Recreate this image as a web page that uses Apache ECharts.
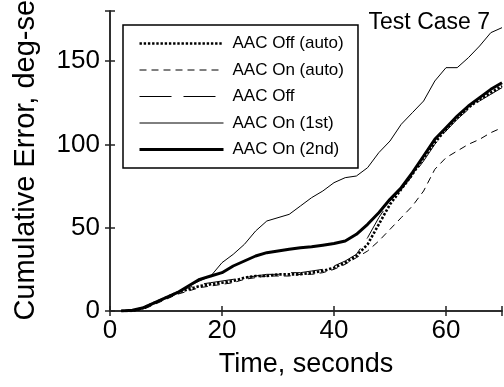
<!DOCTYPE html>
<html>
<head>
<meta charset="utf-8">
<script src="https://cdn.jsdelivr.net/npm/echarts@6/dist/echarts.min.js"></script>
<style>
  html, body { margin: 0; padding: 0; background: #fff; }
  #chart { width: 504px; height: 387px; }
</style>
</head>
<body>
<div id="chart"></div>
<script>
// Time samples (seconds)
const time = [2,4,6,8,10,12,14,16,18,20,22,24,26,28,30,32,34,36,38,40,42,44,46,48,50,52,54,56,58,60,62,64,66,68,70];

// Cumulative error (deg-sec) for each run
const aacOffAuto = [0,0,2,5,8,11,13,15,16,17,18,20,21,21,22,22,22,23,24,26,29,33,40,52,64,73,82,92,101,109,116,122,127,131,135];
const aacOnAuto  = [0,0,1,4,7,10,12,14,15,16,17,19,20,21,21,21,22,22,23,25,28,32,36,42,49,56,63,72,85,92,96,100,103,107,110];
const aacOff     = [0,0,2,5,8,11,14,16,17,18,19,20,21,22,22,23,23,24,25,27,30,34,44,56,66,73,81,90,100,108,115,121,126,130,134];
const aacOn1st   = [0,0,2,5,8,11,15,18,21,29,34,40,48,54,56,58,63,68,72,77,80,81,86,95,102,112,119,126,138,146,146,152,159,167,170];
const aacOn2nd   = [0,0.5,2,5,8,11,15,19,21,23,27,30,33,35,36,37,38,38.5,39.5,40.5,42,46,52,59,67,74,83,93,103,110,117,123,128,133,137];

const seriesNames = ['AAC Off (auto)', 'AAC On (auto)', 'AAC Off', 'AAC On (1st)', 'AAC On (2nd)'];
const xTicks = [0, 20, 40, 60];
const yTicks = [0, 50, 100, 150];

const FONT = "'Liberation Sans', Arial, sans-serif";
const INK = '#000';

const pair = (vals) => time.map((t, i) => [t, vals[i]]);

const styles = [
  { width: 2.6, type: [2.4, 1.8] },
  { width: 1, type: [7, 5] },
  { width: 1, type: [32, 12] },
  { width: 1, type: 'solid' },
  { width: 3, type: 'solid' }
];
const values = [aacOffAuto, aacOnAuto, aacOff, aacOn1st, aacOn2nd];

const chart = echarts.init(document.getElementById('chart'), null, { renderer: 'canvas' });

const axisLineStyle = { color: '#222', width: 1.5 };

chart.setOption({
  animation: false,
  backgroundColor: '#fff',
  title: {
    text: 'Test Case 7',
    right: 9,
    top: 6,
    padding: 5,
    textStyle: { fontFamily: FONT, fontSize: 23, fontWeight: 'normal', color: INK }
  },
  legend: {
    left: 123,
    top: 25,
    orient: 'vertical',
    padding: [10, 14, 10, 15],
    itemWidth: 84,
    itemHeight: 14,
    itemGap: 9.5,
    backgroundColor: '#fff',
    borderColor: '#000',
    borderWidth: 1.5,
    borderRadius: 0,
    textStyle: { fontFamily: FONT, fontSize: 17, color: INK, padding: [0, 0, 0, 4] },
    data: seriesNames.map((n, i) => ({
      name: n,
      // line-only keys: the marker dot is made fully transparent
      itemStyle: { color: 'rgba(0,0,0,0)', borderWidth: 0, opacity: 0 },
      lineStyle: { color: INK, width: styles[i].width, type: styles[i].type }
    }))
  },
  grid: { left: 110, right: 2, top: 11, bottom: 76, outerBoundsMode: 'none' },
  xAxis: [{
    type: 'value',
    min: 0, max: 70, interval: 20,
    name: 'Time, seconds',
    nameLocation: 'middle',
    nameGap: 40,
    nameTextStyle: { fontFamily: FONT, fontSize: 27, color: INK },
    axisLine: { show: true, lineStyle: axisLineStyle },
    axisTick: { show: true, inside: true, length: 5, lineStyle: axisLineStyle },
    axisLabel: {
      fontFamily: FONT, fontSize: 26, color: INK, margin: 7,
      formatter: v => (xTicks.includes(v) ? String(v) : '')
    },
    splitLine: { show: false }
  }, {
    type: 'value',
    position: 'top',
    min: 0, max: 70, interval: 20,
    axisLine: { show: true, lineStyle: axisLineStyle },
    axisTick: { show: true, inside: true, length: 5, lineStyle: axisLineStyle },
    axisLabel: { show: false },
    splitLine: { show: false }
  }],
  yAxis: [{
    type: 'value',
    min: 0, max: 180, interval: 50,
    name: 'Cumulative Error, deg-sec',
    nameLocation: 'middle',
    nameGap: 70,
    nameTextStyle: { fontFamily: FONT, fontSize: 29, color: INK, padding: [0, 0, 0, 16] },
    axisLine: { show: true, lineStyle: axisLineStyle },
    axisTick: { show: true, inside: true, length: 5, lineStyle: axisLineStyle },
    axisLabel: {
      fontFamily: FONT, fontSize: 26, color: INK, margin: 10,
      formatter: v => (yTicks.includes(v) ? String(v) : '')
    },
    splitLine: { show: false }
  }, {
    type: 'value',
    position: 'right',
    min: 0, max: 180, interval: 50,
    axisLine: { show: true, lineStyle: axisLineStyle },
    axisTick: { show: true, inside: true, length: 5, lineStyle: axisLineStyle },
    axisLabel: { show: false },
    splitLine: { show: false }
  }],
  series: seriesNames.map((n, i) => ({
    name: n,
    type: 'line',
    xAxisIndex: 0,
    yAxisIndex: 0,
    data: pair(values[i]),
    showSymbol: false,
    symbol: 'none',
    smooth: false,
    lineStyle: { color: INK, width: styles[i].width, type: styles[i].type },
    itemStyle: { color: INK },
    z: 2 + i
  }))
});
</script>
</body>
</html>
